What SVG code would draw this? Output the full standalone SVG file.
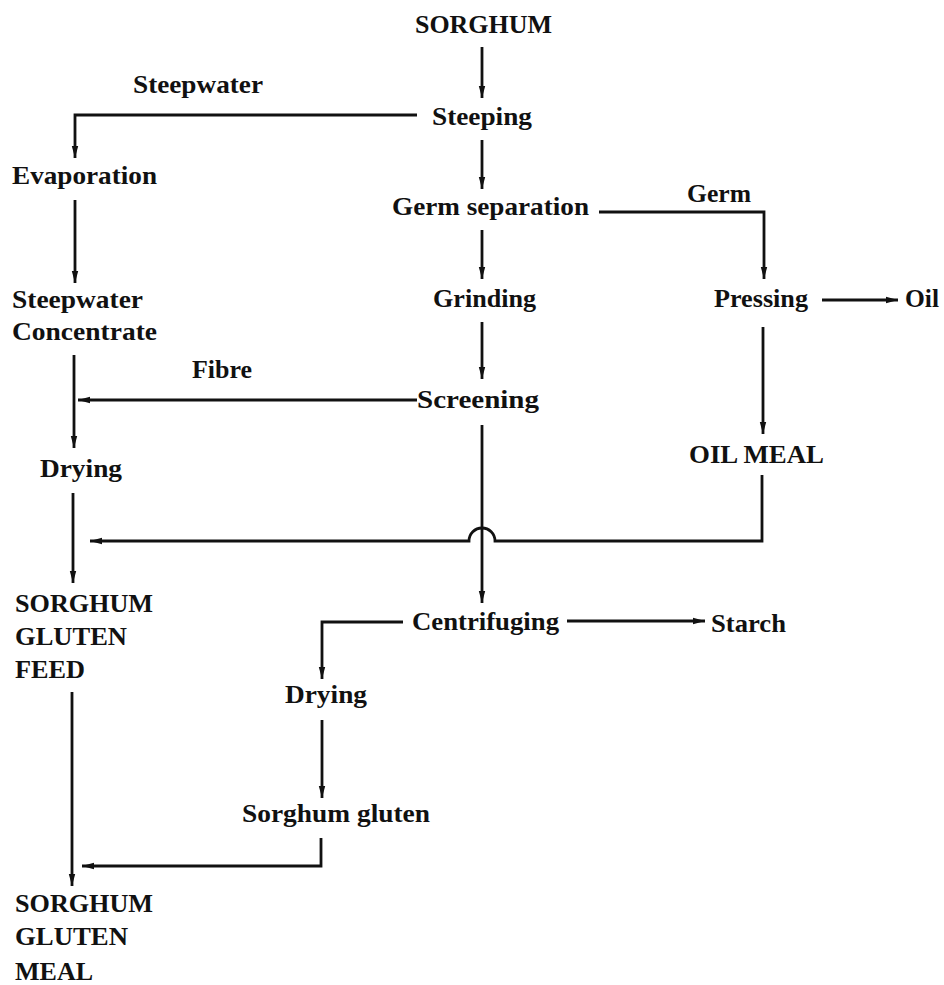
<svg xmlns="http://www.w3.org/2000/svg" width="944" height="985" viewBox="0 0 944 985">
<style>
text{font-family:"Liberation Serif","Times New Roman",serif;font-size:26px;font-weight:bold;fill:#111}
.c{fill:none;stroke:#111;stroke-width:2.8}
.a{marker-end:url(#ah)}
</style>
<defs>
<marker id="ah" markerUnits="userSpaceOnUse" markerWidth="13" markerHeight="8" refX="12" refY="4" orient="auto">
<path d="M0,0.8 L12,4 L0,7.2 z" fill="#111"/>
</marker>
</defs>
<rect width="944" height="985" fill="#fff"/>
<g id="connectors">
<path class="c a" d="M482,47 V98"/>
<path class="c a" d="M417,115 H75 V158"/>
<path class="c a" d="M482,140 V189"/>
<path class="c a" d="M75,200 V283"/>
<path class="c a" d="M599,212 H764 V279"/>
<path class="c a" d="M482,230 V279"/>
<path class="c a" d="M822,300 H898"/>
<path class="c a" d="M482,322 V379"/>
<path class="c a" d="M417,400 H78"/>
<path class="c a" d="M74,355 V448"/>
<path class="c a" d="M763,327 V434"/>
<path class="c a" d="M482,425 V603"/>
<path class="c a" d="M762,475 V541 H495 A13,13 0 0 0 469,541 H90"/>
<path class="c a" d="M73,493 V583"/>
<path class="c a" d="M567,621 H705"/>
<path class="c a" d="M403,622 H322 V679"/>
<path class="c a" d="M322,720 V798"/>
<path class="c a" d="M72,692 V886"/>
<path class="c a" d="M321,838 V866 H82"/>
</g>
<g id="sorghum"><text x="415" y="33" textLength="137" lengthAdjust="spacingAndGlyphs">SORGHUM</text></g>
<g id="label-steepwater"><text x="133" y="93" textLength="130" lengthAdjust="spacingAndGlyphs">Steepwater</text></g>
<g id="steeping"><text x="432" y="125" textLength="100" lengthAdjust="spacingAndGlyphs">Steeping</text></g>
<g id="evaporation"><text x="12" y="184" textLength="145" lengthAdjust="spacingAndGlyphs">Evaporation</text></g>
<g id="germ-separation"><text x="392" y="215" textLength="197" lengthAdjust="spacingAndGlyphs">Germ separation</text></g>
<g id="label-germ"><text x="687" y="202" textLength="64" lengthAdjust="spacingAndGlyphs">Germ</text></g>
<g id="steepwater-concentrate"><text x="12" y="308" textLength="131" lengthAdjust="spacingAndGlyphs">Steepwater</text><text x="12" y="340" textLength="145" lengthAdjust="spacingAndGlyphs">Concentrate</text></g>
<g id="grinding"><text x="433" y="307" textLength="103" lengthAdjust="spacingAndGlyphs">Grinding</text></g>
<g id="pressing"><text x="714" y="307" textLength="94" lengthAdjust="spacingAndGlyphs">Pressing</text></g>
<g id="oil"><text x="905" y="307" textLength="34" lengthAdjust="spacingAndGlyphs">Oil</text></g>
<g id="label-fibre"><text x="192" y="378" textLength="60" lengthAdjust="spacingAndGlyphs">Fibre</text></g>
<g id="screening"><text x="417" y="408" textLength="122" lengthAdjust="spacingAndGlyphs">Screening</text></g>
<g id="drying-1"><text x="40" y="477" textLength="82" lengthAdjust="spacingAndGlyphs">Drying</text></g>
<g id="oil-meal"><text x="689" y="463" textLength="135" lengthAdjust="spacingAndGlyphs">OIL MEAL</text></g>
<g id="sorghum-gluten-feed"><text x="15" y="612" textLength="138" lengthAdjust="spacingAndGlyphs">SORGHUM</text><text x="15" y="645" textLength="112" lengthAdjust="spacingAndGlyphs">GLUTEN</text><text x="15" y="678" textLength="70" lengthAdjust="spacingAndGlyphs">FEED</text></g>
<g id="centrifuging"><text x="412" y="630" textLength="147" lengthAdjust="spacingAndGlyphs">Centrifuging</text></g>
<g id="starch"><text x="711" y="632" textLength="75" lengthAdjust="spacingAndGlyphs">Starch</text></g>
<g id="drying-2"><text x="285" y="703" textLength="82" lengthAdjust="spacingAndGlyphs">Drying</text></g>
<g id="sorghum-gluten"><text x="242" y="822" textLength="188" lengthAdjust="spacingAndGlyphs">Sorghum gluten</text></g>
<g id="sorghum-gluten-meal"><text x="15" y="912" textLength="138" lengthAdjust="spacingAndGlyphs">SORGHUM</text><text x="15" y="945" textLength="113" lengthAdjust="spacingAndGlyphs">GLUTEN</text><text x="15" y="980" textLength="78" lengthAdjust="spacingAndGlyphs">MEAL</text></g>
</svg>
